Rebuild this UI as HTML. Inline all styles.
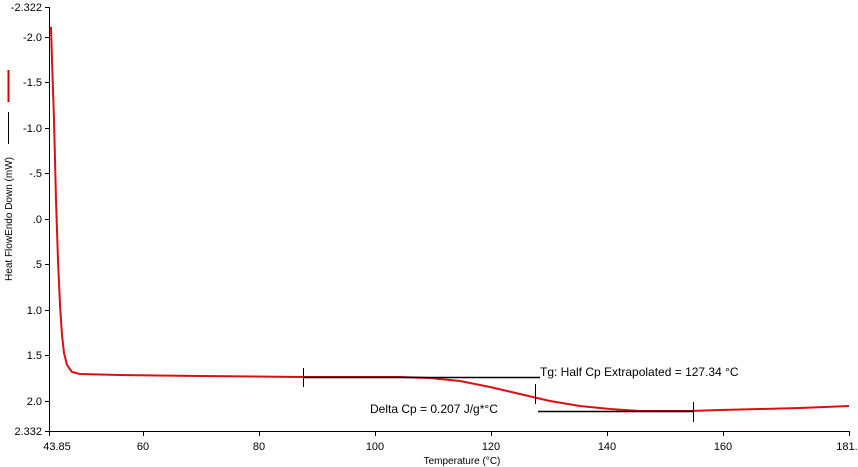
<!DOCTYPE html>
<html><head><style>body{margin:0;background:#fff}svg{display:block;font-family:"Liberation Sans",sans-serif}</style></head><body>
<svg width="858" height="467" viewBox="0 0 858 467">
<g stroke="#000" stroke-width="1" fill="none">
<line x1="49.5" y1="7" x2="49.5" y2="431"/>
<line x1="49" y1="431.5" x2="850" y2="431.5"/>
<path d="M45 7.5H49M45 37.5H49M45 82.5H49M45 128.5H49M45 173.5H49M45 219.5H49M45 264.5H49M45 310.5H49M45 355.5H49M45 401.5H49M45 431.5H49"/>
<path d="M49.5 431V436M143.5 431V436M259.5 431V436M375.5 431V436M491.5 431V436M607.5 431V436M723.5 431V436M849.5 431V436"/>
</g>
<g font-size="11" fill="#000" text-anchor="end">
<text x="42" y="11">-2.322</text><text x="42" y="41">-2.0</text><text x="42" y="86">-1.5</text><text x="42" y="132">-1.0</text><text x="42" y="177">-.5</text><text x="42" y="223">.0</text><text x="42" y="268">.5</text><text x="42" y="314">1.0</text><text x="42" y="359">1.5</text><text x="42" y="405">2.0</text><text x="42" y="435">2.332</text>
</g>
<g font-size="11" fill="#000" text-anchor="middle">
<text x="57" y="450">43.85</text><text x="143" y="450">60</text><text x="259" y="450">80</text><text x="375" y="450">100</text><text x="491" y="450">120</text><text x="607" y="450">140</text><text x="723" y="450">160</text><text x="850" y="450">181.1</text>
<text x="462" y="464" font-size="10">Temperature (°C)</text>
</g>
<text transform="translate(12,219) rotate(-90)" font-size="10" text-anchor="middle">Heat FlowEndo Down (mW)</text>
<line x1="8.5" y1="70" x2="8.5" y2="102" stroke="#d00000" stroke-width="2"/>
<line x1="8.5" y1="112" x2="8.5" y2="144" stroke="#000"/>
<path d="M50 30 L51 27 L52 60 L54 120 L56 200 L58 260 L60 305 L62 335 L64 353 L67 365 L72 372 L80 374 L120 375 L200 376 L300 377 L400 377 L430 378 L460 381 L490 387 L520 394 L550 401 L580 406 L610 409 L640 411 L690 411 L720 410 L760 409 L800 408 L849 406" fill="none" stroke="#d81010" stroke-width="2"/>
<g stroke="#000" stroke-width="1.5">
<line x1="303" y1="377.5" x2="540" y2="377.5"/>
<line x1="538" y1="411.5" x2="694" y2="411.5"/>
</g>
<g stroke="#000" stroke-width="1">
<line x1="303.5" y1="368" x2="303.5" y2="387"/>
<line x1="535.5" y1="384" x2="535.5" y2="404"/>
<line x1="693.5" y1="402" x2="693.5" y2="422"/>
</g>
<text x="540" y="376" font-size="12">Tg: Half Cp Extrapolated = 127.34 °C</text>
<text x="370" y="413" font-size="12">Delta Cp = 0.207 J/g*°C</text>
</svg>
</body></html>
